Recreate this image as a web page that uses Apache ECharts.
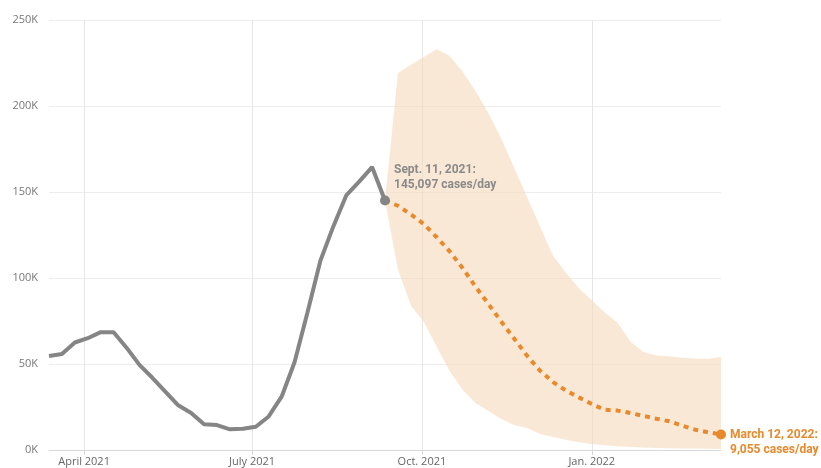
<!DOCTYPE html>
<html>
<head>
<meta charset="utf-8">
<script src="https://cdn.jsdelivr.net/npm/echarts@6/dist/echarts.min.js"></script>
<style>html,body{margin:0;padding:0;background:#fff}#c{width:821px;height:468px}</style>
</head>
<body>
<div id="c"></div>
<script>
// Weekly dates
var histStart = Date.UTC(2021, 2, 13);
var fcStart = Date.UTC(2021, 8, 11);
var WEEK = 7 * 24 * 3600 * 1000;

var historical = [54700, 55800, 62500, 65000, 68500, 68500, 59500, 49500, 42000, 34000, 26000, 21500, 15000, 14500, 12000, 12400, 13500, 19500, 31000, 51000, 80000, 110000, 130000, 148000, 156000, 164500, 145097];
var forecast = [145097, 142000, 137000, 131400, 123700, 115500, 105800, 95000, 84900, 74600, 64700, 54700, 46100, 39500, 34500, 30600, 26700, 23400, 22900, 21500, 19800, 18200, 16700, 14100, 11800, 10300, 9055];
var upperBound = [145097, 219000, 224000, 228500, 233000, 229000, 220000, 208700, 196000, 181000, 164000, 147000, 130000, 113000, 103000, 94000, 87000, 80000, 74000, 63000, 57000, 55000, 54500, 53700, 53200, 53000, 54000];
var lowerBound = [145097, 105000, 84000, 74600, 60000, 46000, 35000, 27300, 22700, 18000, 14500, 12800, 9300, 7500, 6000, 4500, 3500, 2800, 2200, 1800, 1500, 1200, 1000, 900, 800, 700, 600];

var tickDates = [Date.UTC(2021, 3, 1), Date.UTC(2021, 6, 1), Date.UTC(2021, 9, 1), Date.UTC(2022, 0, 1)];
var tickLabels = ['April 2021', 'July 2021', 'Oct. 2021', 'Jan. 2022'];
var yTicks = [0, 50000, 100000, 150000, 200000, 250000];

var histData = historical.map(function (v, i) { return [histStart + i * WEEK, v]; });
var fcData = forecast.map(function (v, i) { return [fcStart + i * WEEK, v]; });
var bandData = upperBound.map(function (v, i) { return [fcStart + i * WEEK, v, lowerBound[i]]; });

var labelFont = 'Roboto, "Liberation Sans", sans-serif';
var lastH = histData.length - 1;
histData[lastH] = {
  value: histData[lastH], symbol: 'circle', symbolSize: 10,
  label: {
    show: true, position: [14, -33], align: 'left', verticalAlign: 'top',
    formatter: 'Sept. 11, 2021:\n145,097 cases/day',
    color: '#8a8a8a', fontWeight: 'bold', fontSize: 12, lineHeight: 15, fontFamily: labelFont
  }
};
var lastF = fcData.length - 1;
fcData[lastF] = {
  value: fcData[lastF], symbol: 'circle', symbolSize: 10,
  label: {
    show: true, position: [14, -2], align: 'left', verticalAlign: 'top',
    formatter: 'March 12, 2022:\n9,055 cases/day',
    color: '#e8892b', fontWeight: 'bold', fontSize: 12, lineHeight: 15, fontFamily: labelFont
  }
};

function renderBand(params, api) {
  if (params.dataIndex !== 0) return null;
  var top = [], bottom = [];
  for (var i = 0; i < bandData.length; i++) {
    top.push(api.coord([bandData[i][0], bandData[i][1]]));
    bottom.unshift(api.coord([bandData[i][0], bandData[i][2]]));
  }
  return {
    type: 'polygon',
    shape: { points: top.concat(bottom) },
    style: { fill: '#f5d9bb', opacity: 0.6 },
    silent: true
  };
}

var chart = echarts.init(document.getElementById('c'), null, { renderer: 'canvas' });
chart.setOption({
  animation: false,
  grid: { left: 49, right: 100, top: 20, bottom: 18, containLabel: false },
  xAxis: {
    type: 'value',
    min: histStart,
    max: fcStart + 26 * WEEK,
    axisLine: { show: true, lineStyle: { color: '#d8d8d8', width: 1 } },
    axisTick: { show: true, customValues: tickDates, length: 5, lineStyle: { color: '#d8d8d8' } },
    axisLabel: {
      customValues: tickDates,
      formatter: function (v) {
        for (var i = 0; i < tickDates.length; i++) if (Math.abs(tickDates[i] - v) < 86400000) return tickLabels[i];
        return '';
      },
      color: '#666', fontSize: 11, margin: 6, fontFamily: '"Open Sans", sans-serif'
    },
    splitLine: { show: true, lineStyle: { color: '#e6e6e6', width: 1 } }
  },
  yAxis: {
    type: 'value', min: yTicks[0], max: yTicks[yTicks.length - 1], interval: 50000,
    axisLine: { show: false }, axisTick: { show: false },
    axisLabel: {
      formatter: function (v) { return (v / 1000) + 'K'; },
      color: '#777', fontSize: 11, margin: 11, fontFamily: '"Open Sans", sans-serif'
    },
    splitLine: { show: true, lineStyle: { color: '#ededed', width: 1 } }
  },
  series: [
    { name: 'band', type: 'custom', data: bandData, renderItem: renderBand, encode: { x: 0, y: [1, 2] }, silent: true, z: 1, clip: true },
    { name: 'forecast', type: 'line', data: fcData, symbol: 'none', showSymbol: true, itemStyle: { color: '#e8892b' }, lineStyle: { color: '#e8892b', width: 4, type: [5, 5] }, z: 3 },
    { name: 'historical', type: 'line', data: histData, symbol: 'none', showSymbol: true, itemStyle: { color: '#858585' }, lineStyle: { color: '#858585', width: 4 }, z: 4 }
  ]
});
</script>
</body>
</html>
